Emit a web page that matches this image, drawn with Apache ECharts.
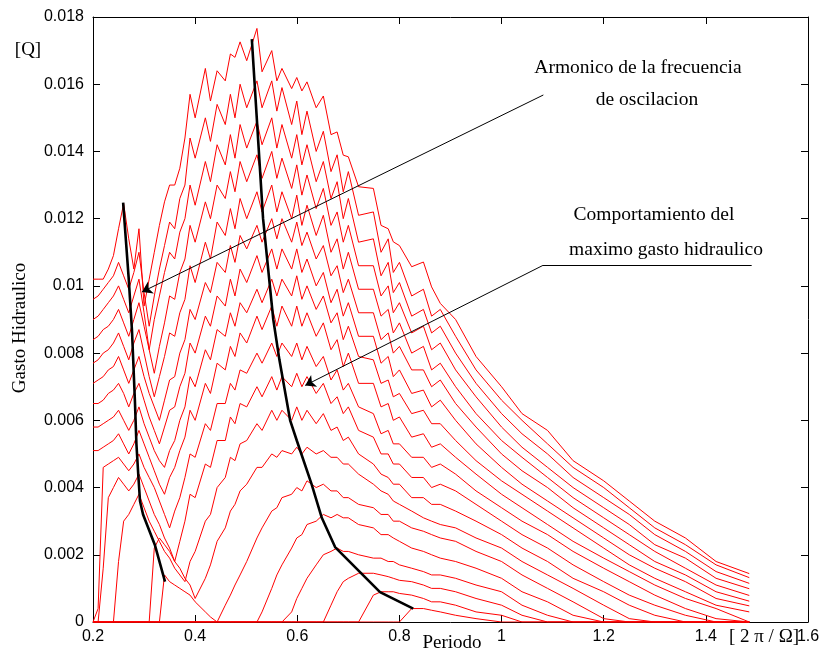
<!DOCTYPE html>
<html><head><meta charset="utf-8">
<script src="https://cdn.jsdelivr.net/npm/echarts@6/dist/echarts.min.js"></script>
<style>html,body{margin:0;padding:0;background:#fff}#c{width:824px;height:652px}</style>
</head><body><div id="c"></div>
<script>
// Period grid [2π/Ω]
const periodGrid = [0.20,0.21,0.22,0.23,0.24,0.25,0.26,0.27,0.28,0.29,0.30,0.31,0.32,0.33,0.34,0.35,0.36,0.37,0.38,
 0.39,0.40,0.42,0.43,0.443,0.459,0.469,0.478,0.488,0.501,0.521,0.531,0.55,0.56,0.57,0.589,0.599,0.609,0.619,0.637,0.651,0.666,0.678,0.69,0.70,0.72,0.749,0.764,0.778,0.788,0.80,0.824,0.847,0.863,0.88,
 0.91,0.95,1.0,1.04,1.09,1.14,1.2,1.25,1.3,1.36,1.42,1.485];

// Gasto hidraulico curves [Q]
const q01 = [0.0102,0.0102,0.0102,0.0105,0.0109,0.0117,0.01245,0.0114,0.0105,0.0117,0.0094,0.0102,0.0110,0.0118,0.0125,0.0130,0.0130,0.0135,0.0144,
 0.0157,0.0150,0.01647,0.0155,0.0164,0.0161,0.0169,0.0168,0.01726,0.0167,0.01766,0.01637,0.0170,0.0161,0.01647,0.01587,0.0162,0.0158,0.01607,0.0153,0.01565,0.0145,0.01458,0.01389,0.01384,0.01295,0.0129,0.0118,0.0117,0.01131,0.0112,0.01057,0.01071,0.00997,0.00948,
 0.0090,0.0079,0.0070,0.0062,0.0057,0.0048,0.0042,0.0036,0.0030,0.0025,0.0018,0.00144];
const q02 = [0.0096,0.0097,0.0099,0.0101,0.0103,0.0107,0.0103,0.0099,0.0104,0.0110,0.0098,0.0088,0.0097,0.0105,0.0112,0.0119,0.0117,0.0126,0.0130,
 0.0144,0.0138,0.0150,0.0143,0.0154,0.0148,0.0157,0.0150,0.0160,0.0153,0.0161,0.0153,0.0161,0.0152,0.0159,0.0148,0.0155,0.0145,0.0152,0.0140,0.0146,0.0134,0.0139,0.0128,0.0134,0.0121,0.0122,0.0110,0.0114,0.0104,0.0107,0.0097,0.0099,0.0091,0.0093,
 0.0085,0.0075,0.0066,0.0060,0.0053,0.0046,0.0040,0.0034,0.0028,0.0023,0.0017,0.00132];
const q03 = [0.0090,0.0091,0.0093,0.0095,0.0097,0.0100,0.0096,0.0092,0.0097,0.0102,0.0092,0.0081,0.0090,0.0097,0.0104,0.0110,0.0108,0.0116,0.0120,
 0.0130,0.0124,0.0137,0.0131,0.0142,0.0136,0.0145,0.0138,0.0148,0.0141,0.0149,0.0142,0.0150,0.0141,0.0148,0.0138,0.0145,0.0136,0.0142,0.0131,0.0137,0.0126,0.0131,0.0120,0.0126,0.0113,0.0114,0.0103,0.0107,0.0098,0.0101,0.0091,0.0093,0.0086,0.0088,
 0.0080,0.0071,0.0062,0.0056,0.0050,0.0043,0.0037,0.0032,0.0026,0.0021,0.0015,0.00115];
const q04 = [0.0084,0.0085,0.0087,0.0088,0.0090,0.0093,0.0089,0.0085,0.0090,0.0095,0.0088,0.0081,0.0074,0.0082,0.0089,0.0097,0.0096,0.0104,0.0108,
 0.0118,0.0113,0.0125,0.0120,0.0130,0.0126,0.0134,0.0128,0.0137,0.0131,0.0139,0.0132,0.0140,0.0132,0.0138,0.0129,0.0136,0.0127,0.0133,0.0123,0.0129,0.0118,0.0122,0.0113,0.0118,0.0106,0.0106,0.0097,0.0100,0.0092,0.0095,0.0086,0.0088,0.0081,0.0083,
 0.0075,0.0067,0.0058,0.0052,0.0046,0.0040,0.0034,0.0029,0.0023,0.0019,0.0013,0.00099];
const q05 = [0.0077,0.0078,0.0080,0.0081,0.0083,0.0086,0.0082,0.0078,0.0083,0.0087,0.0080,0.0073,0.0067,0.0073,0.0079,0.0086,0.0085,0.0092,0.0096,
 0.0106,0.0101,0.0113,0.0108,0.0119,0.0115,0.0123,0.0117,0.0126,0.0120,0.0128,0.0122,0.0130,0.0122,0.0128,0.0120,0.0127,0.0118,0.0124,0.0115,0.0121,0.0110,0.0114,0.0105,0.0110,0.0099,0.0099,0.0091,0.0093,0.0086,0.0089,0.0080,0.0082,0.0075,0.0077,
 0.0070,0.0062,0.0054,0.0049,0.0043,0.0037,0.0031,0.0026,0.0021,0.0016,0.0011,0.00079];
const q06 = [0.0071,0.0072,0.0073,0.0075,0.0076,0.0079,0.0075,0.0071,0.0075,0.0079,0.0073,0.0068,0.0064,0.0060,0.0066,0.0072,0.0073,0.0080,0.0084,
 0.0093,0.0090,0.0101,0.0098,0.0107,0.0104,0.0112,0.0107,0.0115,0.0111,0.0118,0.0113,0.0120,0.0114,0.0120,0.0113,0.0119,0.0112,0.0116,0.0108,0.0112,0.0103,0.0106,0.0098,0.0102,0.0092,0.0092,0.0084,0.0086,0.0080,0.0082,0.0075,0.0075,0.0070,0.0072,
 0.0065,0.0058,0.0050,0.0045,0.0040,0.0034,0.0028,0.0023,0.0018,0.0014,0.0009,0.00062];
const q07 = [0.0065,0.0065,0.0066,0.0068,0.0069,0.0071,0.0068,0.0064,0.0068,0.0071,0.0066,0.0061,0.0057,0.0053,0.0058,0.0063,0.0064,0.0070,0.0074,
 0.0083,0.0080,0.0091,0.0088,0.0097,0.0094,0.0102,0.0097,0.0105,0.0101,0.0109,0.0104,0.0111,0.0105,0.0111,0.0105,0.0111,0.0104,0.0108,0.0100,0.0104,0.0095,0.0099,0.0091,0.0095,0.0085,0.0085,0.0077,0.0079,0.0073,0.0075,0.0068,0.0069,0.0064,0.0066,
 0.0060,0.0053,0.0046,0.0041,0.0036,0.0031,0.0025,0.0020,0.0016,0.0012,0.0007,0.00048];
const q08 = [0.0058,0.0058,0.0059,0.0060,0.0061,0.0063,0.0060,0.0057,0.0060,0.0064,0.0059,0.0055,0.0051,0.0048,0.0046,0.0051,0.0054,0.0060,0.0064,
 0.0073,0.0070,0.0081,0.0078,0.0087,0.0085,0.0092,0.0088,0.0095,0.0092,0.0099,0.0095,0.0102,0.0097,0.0102,0.0097,0.0103,0.0096,0.0100,0.0093,0.0097,0.0089,0.0092,0.0084,0.0088,0.0079,0.0078,0.0071,0.0072,0.0067,0.0068,0.0062,0.0063,0.0059,0.0059,
 0.0054,0.0048,0.0042,0.0038,0.0033,0.0028,0.0022,0.0017,0.0013,0.0009,0.0005,0.0003];
const q09 = [0.0051,0.0051,0.0052,0.0053,0.0054,0.0056,0.0053,0.0050,0.0053,0.0057,0.0053,0.0049,0.0045,0.0041,0.0038,0.0043,0.0046,0.0051,0.0055,
 0.0063,0.0060,0.0071,0.0068,0.0077,0.0075,0.0082,0.0079,0.0086,0.0083,0.0091,0.0087,0.0094,0.0088,0.0094,0.0088,0.0094,0.0088,0.0092,0.0085,0.0089,0.0081,0.0084,0.0076,0.0080,0.0071,0.0071,0.0064,0.0065,0.0060,0.0061,0.0055,0.0056,0.0052,0.0053,
 0.0049,0.0044,0.0038,0.0034,0.0029,0.0024,0.0019,0.0015,0.0011,0.0007,0.0004,0];
const q10 = [0,0.0004,0.0046,0.0047,0.0048,0.0049,0.0047,0.0045,0.0047,0.0050,0.0046,0.0043,0.0040,0.0036,0.0032,0.0028,0.0033,0.0037,0.0043,
 0.0050,0.0049,0.0059,0.0057,0.0065,0.0065,0.0071,0.0069,0.0075,0.0074,0.0080,0.0077,0.0083,0.0079,0.0083,0.0079,0.0083,0.0078,0.0082,0.0076,0.0079,0.0072,0.0075,0.0069,0.0071,0.0064,0.0062,0.0056,0.0057,0.0053,0.0053,0.0049,0.0049,0.0046,0.0047,
 0.0044,0.0039,0.0034,0.0030,0.0026,0.0021,0.0016,0.0012,0.0008,0.0004,0.0001,0];
const q11 = [0,0,0.0016,0.0037,0.0040,0.0043,0.0041,0.0039,0.0041,0.0044,0.0040,0.0036,0.0032,0.0029,0.0025,0.0022,0.0018,0.0024,0.0030,
 0.0038,0.0037,0.0047,0.0046,0.0054,0.0054,0.0061,0.0059,0.0065,0.0064,0.0070,0.0067,0.0073,0.0069,0.0073,0.0070,0.0074,0.0070,0.0073,0.0068,0.0071,0.0065,0.0067,0.0062,0.0064,0.0057,0.0055,0.0050,0.0050,0.0047,0.0047,0.0043,0.0043,0.0040,0.0041,
 0.0039,0.0035,0.0030,0.0026,0.0022,0.0017,0.0012,0.0008,0.0005,0.0002,0,0];
const q12 = [0,0,0,0,0,0.0018,0.0030,0.0032,0.0035,0.0038,0.0034,0.0030,0.0027,0.0024,0.0021,0.0019,0.0016,0.0014,0.0012,
 0.0018,0.0021,0.0030,0.0032,0.0040,0.0043,0.0049,0.0048,0.0053,0.0054,0.0059,0.0057,0.0063,0.0060,0.0063,0.0060,0.0064,0.0060,0.0063,0.0059,0.0062,0.0057,0.0058,0.0054,0.0055,0.0050,0.0047,0.0044,0.0043,0.0041,0.0041,0.0037,0.0037,0.0035,0.0035,
 0.0033,0.0030,0.0026,0.0022,0.0018,0.0013,0.0009,0.0005,0.0002,0,0,0];
const q13 = [0,0,0,0,0,0,0,0,0,0,0,0,0.0022,0.0025,0.0023,0.0021,0.0018,0.0016,0.0013,
 0.0011,0.0007,0.0013,0.0017,0.0024,0.0028,0.0033,0.0035,0.0039,0.0041,0.0046,0.0046,0.0050,0.0049,0.0051,0.0050,0.0052,0.0050,0.0052,0.0050,0.0051,0.0049,0.0049,0.0047,0.0047,0.0044,0.0041,0.0039,0.0038,0.0036,0.0035,0.0033,0.0031,0.0030,0.0029,
 0.0028,0.0025,0.0022,0.0018,0.0014,0.0010,0.0005,0.0001,0,0,0,0];
const q14 = [0,0,0,0,0,0,0,0,0,0,0,0,0,0,0.0014,0.0012,0.0011,0.0010,0.0009,
 0.0008,0.0006,0.0003,0.00015,0,0.0005,0.0008,0.0011,0.0014,0.0018,0.0025,0.0028,0.0033,0.0034,0.0037,0.0038,0.0040,0.0039,0.0042,0.0040,0.0041,0.0039,0.0039,0.0037,0.0037,0.0035,0.0034,0.0032,0.0032,0.0030,0.0030,0.0028,0.0027,0.0026,0.0025,
 0.0024,0.0021,0.0018,0.0014,0.0010,0.0006,0.0001,0,0,0,0,0];
const q15 = [0,0,0,0,0,0,0,0,0,0,0,0,0,0,0,0,0,0,0,
 0,0,0,0,0,0,0,0,0,0,0,0.0003,0.0010,0.0014,0.0017,0.0022,0.0025,0.0026,0.0029,0.0030,0.0032,0.0031,0.0032,0.0031,0.0031,0.0029,0.0028,0.0026,0.0026,0.0025,0.0024,0.0022,0.0021,0.0020,0.0019,
 0.0018,0.0016,0.0013,0.0009,0.0006,0.0002,0,0,0,0,0,0];
const q16 = [0,0,0,0,0,0,0,0,0,0,0,0,0,0,0,0,0,0,0,
 0,0,0,0,0,0,0,0,0,0,0,0,0,0,0,0.0003,0.0007,0.0010,0.0013,0.0017,0.0020,0.0021,0.0022,0.0021,0.0021,0.0020,0.0019,0.0019,0.0018,0.0018,0.0017,0.0016,0.0015,0.0014,0.0014,
 0.0013,0.0011,0.0009,0.0005,0.0002,0,0,0,0,0,0,0];
const q17 = [0,0,0,0,0,0,0,0,0,0,0,0,0,0,0,0,0,0,0,
 0,0,0,0,0,0,0,0,0,0,0,0,0,0,0,0,0,0,0,0,0,0.0005,0.0009,0.0012,0.0013,0.00145,0.00145,0.0014,0.00135,0.0013,0.00124,0.0012,0.0011,0.0010,0.0010,
 0.0009,0.0007,0.0005,0.0002,0,0,0,0,0,0,0,0];
const q18 = [0,0,0,0,0,0,0,0,0,0,0,0,0,0,0,0,0,0,0,
 0,0,0,0,0,0,0,0,0,0,0,0,0,0,0,0,0,0,0,0,0,0,0,0,0,0,0.0008,0.0009,0.0009,0.0009,0.00085,0.0008,0.0007,0.0006,0.0006,
 0.0005,0.0003,0.0002,0,0,0,0,0,0,0,0,0];
const q19 = [0,0,0,0,0,0,0,0,0,0,0,0,0,0,0,0,0,0,0,
 0,0,0,0,0,0,0,0,0,0,0,0,0,0,0,0,0,0,0,0,0,0,0,0,0,0,0,0,0,0,0,0.0004,0.0004,0.00035,0.0003,
 0.0002,0.0001,0,0,0,0,0,0,0,0,0,0];
const curves = [q01,q02,q03,q04,q05,q06,q07,q08,q09,q10,q11,q12,q13,q14,q15,q16,q17,q18,q19];

// Black guide lines
const maxFlowLine = [[0.511,0.01734],[0.533,0.0120],[0.553,0.0090],[0.565,0.0078],[0.586,0.0060],[0.599,0.0054],[0.628,0.0041],[0.648,0.0031],[0.674,0.00223],[0.762,0.00089],[0.827,0.0004]];
const harmonicLine = [[0.259,0.01248],[0.2697,0.01027],[0.2763,0.00868],[0.282,0.0066],[0.285,0.0053],[0.289,0.0043],[0.292,0.0036],[0.298,0.0032],[0.321,0.0023],[0.341,0.0012]];

// Annotation arrows (last segment of each carries the arrow head)
const arrowArmonico = [[1.0818,0.01568],[0.2959,0.00982]];
const arrowMaximo = [[1.4897,0.01061],[1.081,0.01061],[0.6155,0.00704]];

const xTickLabels = ['0.2','0.4','0.6','0.8','1','1.2','1.4','1.6'];
const yTickLabels = ['0','0.002','0.004','0.006','0.008','0.01','0.012','0.014','0.016','0.018'];

curves.forEach((q,k)=>{ if(q.length!==periodGrid.length) throw new Error('curve '+(k+1)+' length '+q.length); });

const chart = echarts.init(document.getElementById('c'), null, {renderer:'canvas'});
const sans = '"Liberation Sans", Arial, sans-serif';
const serif = '"Liberation Serif", "Times New Roman", serif';
const series = [];
curves.forEach((q)=>{
  series.push({type:'line', data: periodGrid.map((x,i)=>[x,q[i]]), symbol:'none', silent:true,
    lineStyle:{color:'#ff0000', width:1}, z:2, animation:false});
});
series.push({type:'line', data: maxFlowLine, symbol:'none', lineStyle:{color:'#000', width:2.6}, z:5, animation:false});
series.push({type:'line', data: harmonicLine, symbol:'none', lineStyle:{color:'#000', width:2.6}, z:5, animation:false});

const plainSegs = [], arrowSegs = [];
[arrowArmonico, arrowMaximo].forEach(path=>{
  for(let i=0;i<path.length-1;i++){
    const seg = {coords:[path[i], path[i+1]]};
    if(i===path.length-2) arrowSegs.push(seg); else plainSegs.push(seg);
  }
});
series.push({type:'lines', coordinateSystem:'cartesian2d', symbol:['none','none'],
  lineStyle:{color:'#000', width:1, opacity:1, curveness:0}, z:6, animation:false, data: plainSegs});
series.push({type:'lines', coordinateSystem:'cartesian2d', symbol:['none','arrow'], symbolSize:[7,10],
  itemStyle:{color:'#000'},
  lineStyle:{color:'#000', width:1, opacity:1, curveness:0}, z:6, animation:false, data: arrowSegs});

const axisCommon = {type:'value', axisLine:{show:true, onZero:false, lineStyle:{color:'#000', width:1}},
  axisTick:{show:true, inside:true, length:7, lineStyle:{color:'#000', width:1}}, splitLine:{show:false}};

chart.setOption({
  animation:false,
  backgroundColor:'#fff',
  grid:{left:93, right:16, top:17, bottom:30, containLabel:false},
  xAxis:[
    Object.assign({}, axisCommon, {min:0.2, max:1.6, interval:0.2, position:'bottom',
      axisLabel:{show:true, margin:7, color:'#000', fontSize:16, fontFamily:sans,
        formatter:(v)=>xTickLabels[Math.round((v-0.2)/0.2)]}}),
    Object.assign({}, axisCommon, {min:0.2, max:1.6, interval:0.2, position:'top', axisLabel:{show:false}})
  ],
  yAxis:[
    Object.assign({}, axisCommon, {min:0, max:0.018, interval:0.002, position:'left',
      axisLabel:{show:true, margin:9, color:'#000', fontSize:16, fontFamily:sans,
        formatter:(v)=>yTickLabels[Math.round(v/0.002)]}}),
    Object.assign({}, axisCommon, {min:0, max:0.018, interval:0.002, position:'right', axisLabel:{show:false}})
  ],
  series: series,
  graphic:[
    {type:'text', x:28, y:50, style:{text:'[Q]', font:'19px '+serif, fill:'#000', align:'center', verticalAlign:'middle'}},
    {type:'text', x:20, y:328, rotation:Math.PI/2, style:{text:'Gasto Hidraulico', font:'19px '+serif, fill:'#000', align:'center', verticalAlign:'middle'}},
    {type:'text', x:452, y:643, style:{text:'Periodo', font:'19px '+serif, fill:'#000', align:'center', verticalAlign:'middle'}},
    {type:'text', x:764, y:637, style:{text:'[ 2 \u03C0 / \u03A9]', font:'19px '+serif, fill:'#000', align:'center', verticalAlign:'middle'}},
    {type:'text', x:638, y:68, style:{text:'Armonico de la frecuencia', font:'19.5px '+serif, fill:'#000', align:'center', verticalAlign:'middle'}},
    {type:'text', x:647, y:100, style:{text:'de oscilacion', font:'19.5px '+serif, fill:'#000', align:'center', verticalAlign:'middle'}},
    {type:'text', x:654, y:215, style:{text:'Comportamiento del', font:'19.5px '+serif, fill:'#000', align:'center', verticalAlign:'middle'}},
    {type:'text', x:666, y:250, style:{text:'maximo gasto hidraulico', font:'19.5px '+serif, fill:'#000', align:'center', verticalAlign:'middle'}}
  ]
});
</script>
</body></html>
